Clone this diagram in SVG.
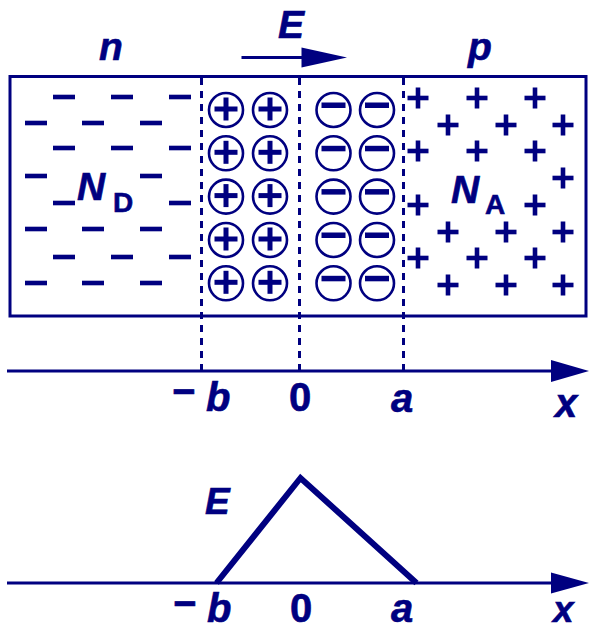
<svg xmlns="http://www.w3.org/2000/svg" xmlns:xlink="http://www.w3.org/1999/xlink" width="589" height="630" viewBox="0 0 589 630">
<style>
.ln{stroke:#000080;fill:none}
.fl{fill:#000080}
.t{font-family:"Liberation Sans",Arial,sans-serif;font-weight:bold;fill:#000080;stroke:#000080;stroke-width:0.6}
.it{font-style:italic}
</style>
<defs>
<g id="pl"><rect x="-10.5" y="-2.3" width="21" height="4.6"/><rect x="-2.3" y="-10.5" width="4.6" height="21"/></g>
<rect id="mi" x="-11" y="-2.3" width="22" height="4.6"/>
<g id="cp"><circle r="17" fill="none" stroke="#000080" stroke-width="2.6"/><rect x="-11.5" y="-3.5" width="23" height="5"/><rect x="-2.5" y="-12.5" width="5" height="23"/></g>
<g id="cm"><circle r="17" fill="none" stroke="#000080" stroke-width="2.6"/><rect x="-12" y="-7.5" width="24" height="5.5"/></g>
</defs>

<g id="box"><rect class="ln" x="10" y="76.5" width="576" height="239.5" stroke-width="3"/></g>

<g id="n-region" class="fl">
<use xlink:href="#mi" x="64" y="97"/><use xlink:href="#mi" x="122" y="97"/><use xlink:href="#mi" x="180" y="97"/>
<use xlink:href="#mi" x="36" y="123"/><use xlink:href="#mi" x="93" y="123"/><use xlink:href="#mi" x="151" y="123"/>
<use xlink:href="#mi" x="64" y="148"/><use xlink:href="#mi" x="122" y="148"/><use xlink:href="#mi" x="180" y="148"/>
<use xlink:href="#mi" x="36" y="176"/><use xlink:href="#mi" x="151" y="176"/>
<use xlink:href="#mi" x="64" y="203"/><use xlink:href="#mi" x="180" y="203"/>
<use xlink:href="#mi" x="36" y="229"/><use xlink:href="#mi" x="93" y="229"/><use xlink:href="#mi" x="151" y="229"/>
<use xlink:href="#mi" x="64" y="257"/><use xlink:href="#mi" x="122" y="257"/><use xlink:href="#mi" x="180" y="257"/>
<use xlink:href="#mi" x="36" y="283"/><use xlink:href="#mi" x="93" y="283"/><use xlink:href="#mi" x="151" y="283"/>
</g>

<g id="p-region" class="fl">
<use xlink:href="#pl" x="418" y="98"/><use xlink:href="#pl" x="477" y="98"/><use xlink:href="#pl" x="535" y="98"/>
<use xlink:href="#pl" x="448" y="125"/><use xlink:href="#pl" x="506" y="125"/><use xlink:href="#pl" x="563" y="125"/>
<use xlink:href="#pl" x="418" y="151"/><use xlink:href="#pl" x="477" y="151"/><use xlink:href="#pl" x="535" y="151"/>
<use xlink:href="#pl" x="563" y="178"/>
<use xlink:href="#pl" x="418" y="205"/><use xlink:href="#pl" x="535" y="205"/>
<use xlink:href="#pl" x="448" y="232"/><use xlink:href="#pl" x="506" y="232"/><use xlink:href="#pl" x="563" y="232"/>
<use xlink:href="#pl" x="418" y="258"/><use xlink:href="#pl" x="477" y="258"/><use xlink:href="#pl" x="535" y="258"/>
<use xlink:href="#pl" x="448" y="285"/><use xlink:href="#pl" x="506" y="285"/><use xlink:href="#pl" x="563" y="285"/>
</g>

<g id="donor-ions" class="fl">
<use xlink:href="#cp" x="226" y="110"/><use xlink:href="#cp" x="270" y="110"/>
<use xlink:href="#cp" x="226" y="153.3"/><use xlink:href="#cp" x="270" y="153.3"/>
<use xlink:href="#cp" x="226" y="196.6"/><use xlink:href="#cp" x="270" y="196.6"/>
<use xlink:href="#cp" x="226" y="240"/><use xlink:href="#cp" x="270" y="240"/>
<use xlink:href="#cp" x="226" y="283.3"/><use xlink:href="#cp" x="270" y="283.3"/>
</g>
<g id="acceptor-ions" class="fl">
<use xlink:href="#cm" x="333.5" y="110"/><use xlink:href="#cm" x="377" y="110"/>
<use xlink:href="#cm" x="333.5" y="153.3"/><use xlink:href="#cm" x="377" y="153.3"/>
<use xlink:href="#cm" x="333.5" y="196.6"/><use xlink:href="#cm" x="377" y="196.6"/>
<use xlink:href="#cm" x="333.5" y="240"/><use xlink:href="#cm" x="377" y="240"/>
<use xlink:href="#cm" x="333.5" y="283.3"/><use xlink:href="#cm" x="377" y="283.3"/>
</g>

<g id="connectors">
<g class="ln" stroke-width="3" stroke-dasharray="7 6">
<line x1="201.5" y1="78" x2="201.5" y2="371"/>
<line x1="299.5" y1="78" x2="299.5" y2="371"/>
<line x1="403.5" y1="78" x2="403.5" y2="371"/>
</g>
<line class="ln" x1="241.5" y1="57.5" x2="304" y2="57.5" stroke-width="3"/>
<polygon class="fl" points="301.5,47.5 347,57.5 301.5,67.5"/>
<line class="ln" x1="7" y1="371" x2="553" y2="371" stroke-width="3"/>
<polygon class="fl" points="551,360 589,371 551,382"/>
<line class="ln" x1="7" y1="583" x2="553" y2="583" stroke-width="3"/>
<polygon class="fl" points="551,572.5 589,583 551,593.5"/>
<polyline class="ln" points="216.5,583 300.5,478 416.5,583" stroke-width="6" stroke-linejoin="miter"/>
</g>

<g id="labels" class="t">
<text class="it" x="278" y="38" font-size="39">E</text>
<text class="it" x="99" y="60" font-size="39">n</text>
<text class="it" x="468" y="60" font-size="39">p</text>
<text x="77" y="200" font-size="39"><tspan class="it">N</tspan><tspan x="113" y="212" font-size="28">D</tspan></text>
<text x="451" y="203" font-size="39"><tspan class="it">N</tspan><tspan x="485" y="214" font-size="28">A</tspan></text>
<text x="172" y="405" font-size="40">−<tspan class="it" x="206" y="411">b</tspan></text>
<text x="289" y="411" font-size="40">0</text>
<text class="it" x="391" y="412" font-size="40">a</text>
<text class="it" x="555" y="417" font-size="40">x</text>
<text class="it" x="205" y="514" font-size="37">E</text>
<text x="173" y="617" font-size="40">−<tspan class="it" x="207" y="622">b</tspan></text>
<text x="290" y="622" font-size="40">0</text>
<text class="it" x="391" y="622" font-size="40">a</text>
<text class="it" x="553" y="622" font-size="37">x</text>
</g>
</svg>
